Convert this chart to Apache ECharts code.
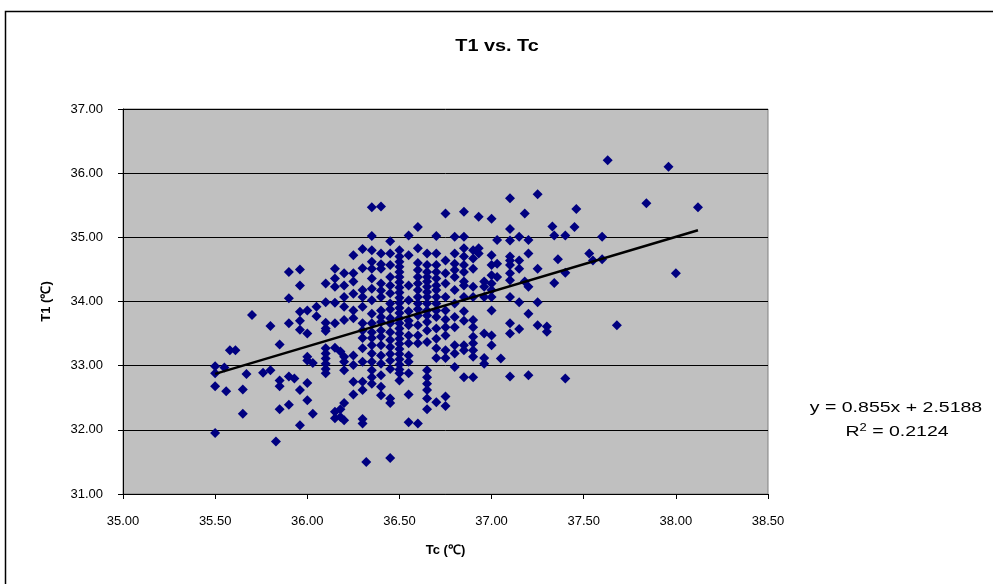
<!DOCTYPE html>
<html>
<head>
<meta charset="utf-8">
<script src="https://cdn.jsdelivr.net/npm/echarts@6/dist/echarts.min.js"></script>
<style>
html,body{margin:0;padding:0;background:#fff;}
#chart{width:993px;height:584px;}
</style>
</head>
<body>
<div id="chart"></div>
<script>
// Tc columns (°C) and T1 values (°C) observed at each Tc
const tcCols = [
  35.50, 35.55, 35.56, 35.58, 35.61, 35.65, 35.67, 35.70, 35.76, 35.80,
  35.83, 35.85, 35.90, 35.93, 35.96, 36.00, 36.03, 36.05, 36.10, 36.15,
  36.18, 36.20, 36.25, 36.30, 36.32, 36.35, 36.40, 36.45, 36.50, 36.55,
  36.60, 36.65, 36.70, 36.75, 36.80, 36.85, 36.90, 36.93, 36.96, 37.00,
  37.03, 37.05, 37.10, 37.15, 37.18, 37.20, 37.25, 37.30, 37.33, 37.34,
  37.36, 37.40, 37.45, 37.46, 37.53, 37.55, 37.60, 37.63, 37.68, 37.84,
  37.96, 38.00, 38.12
];
const t1Cols = [
  [32.99, 32.88, 32.68, 31.95],
  [32.97],
  [32.60],
  [33.24],
  [33.24],
  [32.63, 32.25],
  [32.87],
  [33.79],
  [32.89],
  [33.62, 32.93],
  [31.82],
  [33.33, 32.77, 32.68, 32.32],
  [34.46, 34.05, 33.66, 32.83, 32.39],
  [32.80],
  [34.50, 34.25, 33.84, 33.70, 33.56, 32.62, 32.07],
  [33.86, 33.50, 33.14, 33.08, 32.73, 32.46],
  [33.04, 32.25],
  [33.92, 33.77],
  [34.28, 33.99, 33.67, 33.58, 33.54, 33.27, 33.19, 33.11, 33.03, 32.95, 32.88],
  [34.51, 34.36, 34.23, 33.98, 33.66, 33.28, 32.28, 32.18],
  [33.22, 32.32, 32.20],
  [34.44, 34.25, 34.07, 33.92, 33.71, 33.14, 33.06, 32.93, 32.42, 32.15],
  [34.72, 34.44, 34.31, 34.12, 33.86, 33.74, 33.16, 33.01, 32.75, 32.55],
  [34.82, 34.52, 34.18, 34.07, 33.92, 33.66, 33.55, 33.43, 33.27, 33.06, 32.75, 32.62, 32.17, 32.10],
  [31.50],
  [35.47, 35.02, 34.80, 34.62, 34.51, 34.36, 34.20, 34.02, 33.81, 33.66, 33.52, 33.43, 33.32, 33.19, 33.06, 32.93, 32.82, 32.72],
  [35.48, 34.75, 34.58, 34.51, 34.28, 34.17, 34.07, 33.86, 33.76, 33.68, 33.55, 33.45, 33.32, 33.16, 33.03, 32.85, 32.67, 32.54],
  [34.94, 34.75, 34.57, 34.38, 34.25, 34.13, 33.97, 33.88, 33.74, 33.66, 33.52, 33.40, 33.29, 33.18, 33.08, 32.95, 32.49, 32.42, 31.56],
  [34.80, 34.70, 34.62, 34.54, 34.46, 34.38, 34.30, 34.22, 34.14, 34.06, 33.98, 33.90, 33.82, 33.74, 33.66, 33.58, 33.50, 33.42, 33.34, 33.26, 33.18, 33.10, 33.02, 32.94, 32.88, 32.77],
  [35.03, 34.72, 34.25, 34.02, 33.85, 33.70, 33.63, 33.47, 33.35, 33.16, 33.06, 32.88, 32.55, 32.12],
  [35.16, 34.83, 34.60, 34.49, 34.38, 34.28, 34.18, 34.07, 33.97, 33.88, 33.78, 33.63, 33.47, 33.35, 32.10],
  [34.75, 34.57, 34.46, 34.38, 34.31, 34.23, 34.15, 34.07, 33.97, 33.86, 33.78, 33.68, 33.55, 33.37, 32.93, 32.82, 32.72, 32.62, 32.49, 32.32],
  [35.02, 34.75, 34.57, 34.46, 34.36, 34.25, 34.18, 34.07, 33.97, 33.86, 33.76, 33.58, 33.42, 33.27, 33.12, 32.43],
  [35.37, 34.64, 34.44, 34.28, 34.07, 33.86, 33.72, 33.60, 33.47, 33.24, 33.12, 32.52, 32.37],
  [35.01, 34.75, 34.59, 34.49, 34.38, 34.18, 33.97, 33.76, 33.60, 33.32, 33.19, 32.98],
  [35.40, 35.01, 34.83, 34.70, 34.57, 34.46, 34.31, 34.25, 34.07, 33.85, 33.70, 33.32, 33.24, 32.82],
  [34.80, 34.67, 34.51, 34.23, 34.07, 33.71, 33.60, 33.45, 33.35, 33.24, 33.14, 32.82],
  [35.32, 34.83, 34.75],
  [34.31, 34.23, 34.07, 33.50, 33.12, 33.03],
  [35.29, 34.72, 34.57, 34.41, 34.28, 34.18, 34.07, 33.86, 33.47, 33.32],
  [34.96, 34.59, 34.38],
  [33.11],
  [35.61, 35.13, 34.95, 34.70, 34.64, 34.57, 34.44, 34.33, 34.07, 33.66, 33.50, 32.83],
  [35.01, 34.64, 34.51, 33.99, 33.57],
  [35.37, 34.31],
  [34.96, 34.75, 34.23, 33.81, 32.85],
  [35.67, 34.51, 33.99, 33.63],
  [33.61, 33.53],
  [35.17],
  [35.03, 34.29],
  [34.66],
  [35.03, 34.45, 32.80],
  [35.16],
  [35.44],
  [34.75],
  [34.64],
  [35.01, 34.66],
  [36.20],
  [33.63],
  [35.53],
  [36.10],
  [34.44],
  [35.47]
];
// Trendline reported in the chart
const slope = 0.855;
const intercept = 2.5188;
const rSquared = 0.2124;

const xTicks = {min: 35, max: 38.5, interval: 0.5};
const yTicks = {min: 31, max: 37, interval: 1};

const scatterData = [];
tcCols.forEach((x, i) => t1Cols[i].forEach(y => scatterData.push([x, y])));
const xMin = Math.min(...tcCols), xMax = Math.max(...tcCols);
const trend = [[xMin, slope * xMin + intercept], [xMax, slope * xMax + intercept]];

const FONT = '"Liberation Sans", Arial, sans-serif';
const chart = echarts.init(document.getElementById('chart'), null, {renderer: 'canvas'});
chart.setOption({
  animation: false,
  backgroundColor: '#ffffff',
  grid: {
    left: 123, right: 225, top: 109, bottom: 90,
    show: true, backgroundColor: '#c0c0c0', borderColor: '#808080', borderWidth: 1
  },
  xAxis: {
    type: 'value',
    min: xTicks.min, max: xTicks.max, interval: xTicks.interval,
    name: 'Tc (\u2103)',
    nameLocation: 'middle',
    nameGap: 50,
    nameTextStyle: {fontFamily: FONT, fontSize: 13, fontWeight: 'bold', color: '#000'},
    axisLine: {show: true, onZero: false, lineStyle: {color: '#000', width: 1}},
    axisTick: {show: true, inside: false, length: 5, lineStyle: {color: '#000'}},
    axisLabel: {fontFamily: FONT, fontSize: 13, color: '#000', margin: 21,
      formatter: v => v.toFixed(2)},
    splitLine: {show: false}
  },
  yAxis: {
    type: 'value',
    min: yTicks.min, max: yTicks.max, interval: yTicks.interval,
    name: 'T1 (\u2103)',
    nameLocation: 'middle',
    nameGap: 70,
    nameRotate: 90,
    nameTextStyle: {fontFamily: FONT, fontSize: 13, fontWeight: 'bold', color: '#000'},
    axisLine: {show: true, onZero: false, lineStyle: {color: '#000', width: 1}},
    axisTick: {show: true, inside: false, length: 5, lineStyle: {color: '#000'}},
    axisLabel: {fontFamily: FONT, fontSize: 13, color: '#000', margin: 20,
      formatter: v => v.toFixed(2)},
    splitLine: {show: true, lineStyle: {color: '#000', width: 1}}
  },
  series: [
    {
      type: 'scatter',
      data: scatterData,
      symbol: 'diamond',
      symbolSize: [10, 10],
      itemStyle: {color: '#000080', opacity: 1},
      z: 2
    },
    {
      type: 'line',
      data: trend,
      symbol: 'none',
      lineStyle: {color: '#000', width: 2.5},
      z: 3
    }
  ],
  graphic: [
    {
      type: 'rect',
      shape: {x: 5.5, y: 11.5, width: 1000, height: 600},
      style: {fill: 'none', stroke: '#000', lineWidth: 1.5},
      silent: true
    },
    {
      type: 'text',
      x: 497, y: 47, scaleX: 1.24,
      style: {
        text: 'T1 vs. Tc',
        font: 'bold 16px ' + FONT, fill: '#000', align: 'center', verticalAlign: 'middle'
      }
    },
    {
      type: 'text',
      x: 896, y: 408, scaleX: 1.3,
      style: {
        text: 'y = ' + slope + 'x + ' + intercept,
        font: '15px ' + FONT, fill: '#000', align: 'center', verticalAlign: 'middle'
      }
    },
    {
      type: 'text',
      x: 897, y: 432, scaleX: 1.3,
      style: {
        text: '{n|R}{s|2}{n| = ' + rSquared + '}',
        align: 'center', verticalAlign: 'middle',
        rich: {
          n: {fontFamily: FONT, fontSize: 15, color: '#000'},
          s: {fontFamily: FONT, fontSize: 10, color: '#000', verticalAlign: 'top', padding: [0, 0, 8, 0]}
        }
      }
    }
  ]
});
</script>
</body>
</html>
